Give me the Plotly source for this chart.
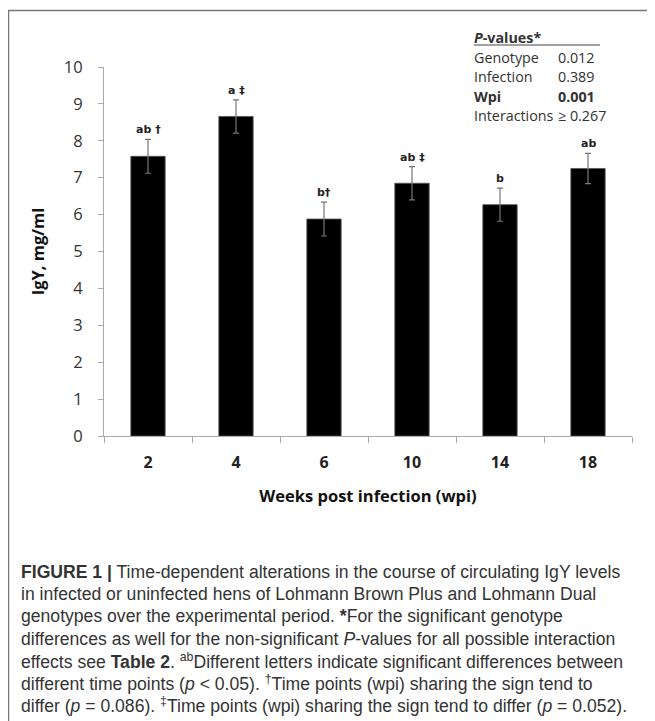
import plotly.graph_objects as go

weeks = ["2", "4", "6", "10", "14", "18"]
igy = [7.58, 8.66, 5.88, 6.85, 6.27, 7.25]
sem = [0.46, 0.45, 0.46, 0.45, 0.45, 0.41]
letters = ["ab \u2020", "a \u2021", "b\u2020", "ab \u2021", "b", "ab"]

pv_names = ["Genotype", "Infection", "<b>Wpi</b>", "Interactions"]
pv_values = ["0.012", "0.389", "<b>0.001</b>", "\u2265 0.267"]

caption_lines = [
    "<b>FIGURE 1 |</b> Time-dependent alterations in the course of circulating IgY levels",
    "in infected or uninfected hens of Lohmann Brown Plus and Lohmann Dual",
    "genotypes over the experimental period. <b>*</b>For the significant genotype",
    "differences as well for the non-significant <i>P</i>-values for all possible interaction",
    "effects see <b>Table 2</b>. <sup>ab</sup>Different letters indicate significant differences between",
    "different time points (<i>p</i> &lt; 0.05). <sup>\u2020</sup>Time points (wpi) sharing the sign tend to",
    "differ (<i>p</i> = 0.086). <sup>\u2021</sup>Time points (wpi) sharing the sign tend to differ (<i>p</i> = 0.052).",
]

O = 8  # page offset of the figure inside the browser window
W, H = 655 - O, 721 - O
L, R, T, B = 104 - O, 632 - O, 67 - O, 436 - O


def px(x):
    return (x - O - L) / (R - L)


def py(y):
    return (B - (y - O)) / (B - T)


fig = go.Figure()
fig.add_trace(go.Bar(
    x=weeks, y=igy,
    marker=dict(color="#000000", line=dict(color="#555555", width=0.8)),
    error_y=dict(type="data", array=sem, visible=True, color="#777777", thickness=1.2, width=3),
    width=0.39,
))

for i, (v, e, t) in enumerate(zip(igy, sem, letters)):
    fig.add_annotation(x=i, y=v + e, text="<b>" + t + "</b>", showarrow=False, yanchor="bottom", yshift=1,
                       font=dict(family="DejaVu Sans", size=11, color="#222"))

fig.update_layout(
    width=W, height=H,
    margin=dict(l=L, r=W - R, t=T, b=H - B),
    paper_bgcolor="white", plot_bgcolor="white",
    showlegend=False,
    xaxis=dict(type="category", range=[-0.5, 5.5], showline=True, linecolor="#aaaaaa", linewidth=1.2,
               ticks="outside", tickson="boundaries", ticklen=6, tickcolor="#aaaaaa",
               ticklabelstandoff=12,
               tickfont=dict(family="Open Sans", size=16, color="#222", weight="bold"),
               title=dict(text="<b>Weeks post infection (wpi)</b>", standoff=18,
                          font=dict(family="Open Sans", size=16.5, color="#111"))),
    yaxis=dict(range=[0, 10], dtick=1, showline=True, linecolor="#aaaaaa", linewidth=1.2,
               ticks="outside", ticklen=5, tickcolor="#aaaaaa", showgrid=False, zeroline=False,
               ticklabelstandoff=12,
               tickfont=dict(family="Open Sans", size=16.5, color="#333"),
               title=dict(text="<b>IgY, mg/ml</b>", standoff=14,
                          font=dict(family="Open Sans", size=16.5, color="#111"))),
)

# frame
fig.add_shape(type="rect", xref="paper", yref="paper",
              x0=px(8.5), x1=px(700), y0=py(10.5), y1=py(760),
              line=dict(color="#777777", width=1.5), layer="below")

# P-values table
pfont = dict(family="Open Sans", size=14.3, color="#333")
fig.add_annotation(xref="paper", yref="paper", x=px(472), y=py(37), text="<b><i>P</i>-values*</b>",
                   showarrow=False, xanchor="left", yanchor="middle", font=pfont)
fig.add_shape(type="line", xref="paper", yref="paper", x0=px(474), x1=px(600),
              y0=py(45), y1=py(45), line=dict(color="#444", width=1.2))
row_y = [57, 76, 96, 116]
for n, v, yy in zip(pv_names, pv_values, row_y):
    fig.add_annotation(xref="paper", yref="paper", x=px(472), y=py(yy), text=n,
                       showarrow=False, xanchor="left", yanchor="middle", font=pfont)
    fig.add_annotation(xref="paper", yref="paper", x=px(556), y=py(yy), text=v,
                       showarrow=False, xanchor="left", yanchor="middle", font=pfont)

# caption
for i, line in enumerate(caption_lines):
    fig.add_annotation(xref="paper", yref="paper", x=px(19), y=py(572 + i * 22.2), text=line,
                       showarrow=False, xanchor="left", yanchor="middle",
                       font=dict(family="Liberation Sans", size=17.6, color="#333"))

fig.write_html("out.html")
